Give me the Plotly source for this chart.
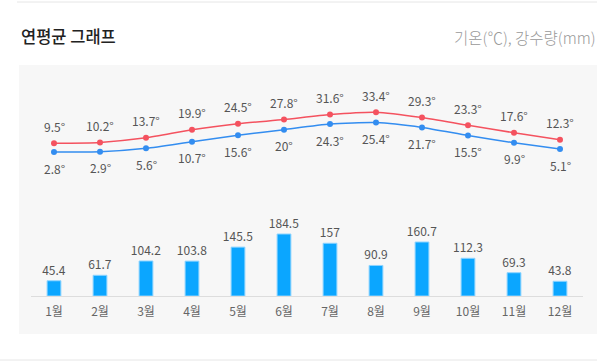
import plotly.graph_objects as go

months = ["1월", "2월", "3월", "4월", "5월", "6월", "7월", "8월", "9월", "10월", "11월", "12월"]
temp_max = [9.5, 10.2, 13.7, 19.9, 24.5, 27.8, 31.6, 33.4, 29.3, 23.3, 17.6, 12.3]
temp_min = [2.8, 2.9, 5.6, 10.7, 15.6, 20, 24.3, 25.4, 21.7, 15.5, 9.9, 5.1]
rain = [45.4, 61.7, 104.2, 103.8, 145.5, 184.5, 157, 90.9, 160.7, 112.3, 69.3, 43.8]

W, H = 613, 362
FONT = "Noto Sans CJK KR"
LBL = "#555555"

def fmt(v):
    return "%g" % v

fig = go.Figure()

fig.add_trace(go.Bar(
    x=months, y=rain, yaxis="y", xaxis="x",
    marker=dict(color="#0ba6ff", line=dict(color="#8fd4ff", width=1)),
    width=0.3,
    text=[fmt(v) for v in rain], textposition="outside", cliponaxis=False,
    constraintext="none",
    textfont=dict(family=FONT, size=12, color=LBL),
    hoverinfo="skip",
))

fig.add_trace(go.Scatter(
    x=months, y=temp_max, yaxis="y2", xaxis="x",
    mode="lines+markers",
    line=dict(color="#f4525f", width=1.5, shape="spline", smoothing=0.6),
    marker=dict(color="#f4525f", size=6),
    cliponaxis=False, hoverinfo="skip",
))

fig.add_trace(go.Scatter(
    x=months, y=temp_min, yaxis="y2", xaxis="x",
    mode="lines+markers",
    line=dict(color="#338df0", width=1.5, shape="spline", smoothing=0.6),
    marker=dict(color="#338df0", size=6),
    cliponaxis=False, hoverinfo="skip",
))

def fy(px):
    return (H - px) / H

annots = [
    dict(text="연평균 그래프", xref="paper", yref="paper",
         x=(19 - 31) / 552, y=fy(36), xanchor="left", yanchor="middle",
         showarrow=False, font=dict(family=FONT, size=16.5, color="#222222", weight=500)),
    dict(text="기온(℃), 강수량(mm)", xref="paper", yref="paper",
         x=(598 - 31) / 552, y=fy(37), xanchor="right", yanchor="middle",
         showarrow=False, font=dict(family=FONT, size=15.5, color="#999999", weight=300)),
]
for m, v in zip(months, temp_max):
    annots.append(dict(text=fmt(v) + "°", x=m, y=v, xref="x", yref="y2",
                       yshift=17, showarrow=False,
                       font=dict(family=FONT, size=12, color=LBL)))
for m, v in zip(months, temp_min):
    annots.append(dict(text=fmt(v) + "°", x=m, y=v, xref="x", yref="y2",
                       yshift=-16, showarrow=False,
                       font=dict(family=FONT, size=12, color=LBL)))

fig.update_layout(
    width=W, height=H,
    margin=dict(l=31, r=30, t=0, b=0),
    paper_bgcolor="white", plot_bgcolor="rgba(0,0,0,0)",
    showlegend=False,
    font=dict(family=FONT),
    xaxis=dict(
        type="category", range=[-0.5, 11.5], anchor="y",
        showgrid=False, showline=True, linecolor="#dddddd", linewidth=1,
        ticks="", tickfont=dict(family=FONT, size=12, color="#666666"),
        ticklabelstandoff=5, zeroline=False, fixedrange=True,
    ),
    yaxis=dict(
        domain=[fy(296), fy(216)], range=[0, 238.1],
        visible=False, showgrid=False, zeroline=False,
    ),
    yaxis2=dict(
        domain=[fy(200), fy(80)], range=[-34.12, 58.18],
        visible=False, showgrid=False, zeroline=False,
    ),
    shapes=[
        dict(type="rect", xref="paper", yref="paper", layer="below",
             x0=(19 - 31) / 552, x1=(597 - 31) / 552, y0=fy(334), y1=fy(65),
             fillcolor="#f7f7f7", line=dict(width=0)),
        dict(type="line", xref="paper", yref="paper",
             x0=(17 - 31) / 552, x1=(597 - 31) / 552, y0=fy(2), y1=fy(2),
             line=dict(color="#e6e6e6", width=1)),
        dict(type="line", xref="paper", yref="paper",
             x0=(0 - 31) / 552, x1=(597 - 31) / 552, y0=fy(360), y1=fy(360),
             line=dict(color="#e6e6e6", width=1)),
    ],
    annotations=annots,
)

fig.write_html("out.html", config={"displayModeBar": False, "staticPlot": True},
               post_script="document.body.style.margin='0';document.body.style.overflow='hidden';")
